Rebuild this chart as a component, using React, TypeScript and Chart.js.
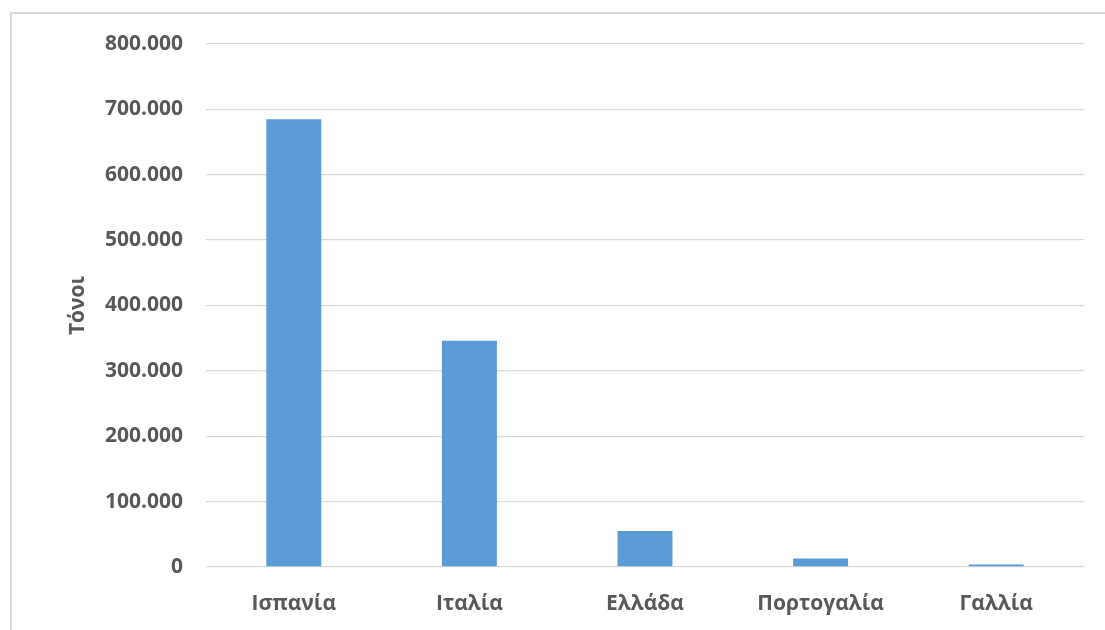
import { useEffect, useRef } from "react";
import { Chart, registerables } from "chart.js";

Chart.register(...registerables);

// Production by country, in tonnes
const countries: string[] = ["Ισπανία", "Ιταλία", "Ελλάδα", "Πορτογαλία", "Γαλλία"];
const tonnes: number[] = [685000, 346000, 55000, 13000, 4000];

// Value axis
const yMin = 0;
const yMax = 800000;
const yStep = 100000;
const yTitle = "Τόνοι";

const TEXT = "#595959";
const GRID = "#d9d9d9";
const BAR = "#5b9bd5";
const FONT = "'Open Sans', 'Noto Sans', 'DejaVu Sans', sans-serif";

// 800000 -> "800.000"
function withDots(v: number): string {
  return String(Math.round(v)).replace(/\B(?=(\d{3})+(?!\d))/g, ".");
}

export default function App() {
  const canvasRef = useRef<HTMLCanvasElement | null>(null);

  useEffect(() => {
    document.body.style.margin = "0";
    const canvas = canvasRef.current;
    if (!canvas) return;

    const chart = new Chart(canvas, {
      type: "bar",
      data: {
        labels: countries,
        datasets: [
          {
            data: tonnes,
            backgroundColor: BAR,
            borderWidth: 0,
            barPercentage: 1,
            categoryPercentage: 0.313,
          },
        ],
      },
      options: {
        animation: false,
        responsive: false,
        maintainAspectRatio: false,
        layout: { padding: { left: 0, right: 21, top: 44, bottom: 0 } },
        plugins: {
          legend: { display: false },
          tooltip: { enabled: false },
        },
        scales: {
          x: {
            grid: { display: false },
            border: { display: false },
            ticks: {
              color: TEXT,
              font: { family: FONT, size: 21, weight: "bold" },
              padding: 16,
              maxRotation: 0,
            },
            afterFit: (scale: any) => {
              scale.height = 63;
            },
          },
          y: {
            min: yMin,
            max: yMax,
            grid: { color: GRID, lineWidth: 1.3, drawTicks: false },
            border: { display: false },
            ticks: {
              stepSize: yStep,
              color: TEXT,
              font: { family: FONT, size: 21, weight: "bold" },
              padding: 23,
              callback: (v: any) => withDots(Number(v)),
            },
            title: {
              display: true,
              text: yTitle,
              color: TEXT,
              font: { family: FONT, size: 21, weight: "bold" },
              padding: { top: 65, bottom: 0 },
            },
            afterFit: (scale: any) => {
              scale.width = 206;
            },
          },
        },
      },
    });

    return () => chart.destroy();
  }, []);

  return (
    <div style={{ position: "absolute", left: 0, top: 0, width: 1105, height: 630, background: "#fff", overflow: "hidden" }}>
      <div
        style={{
          position: "absolute",
          left: 10,
          top: 12,
          width: 1120,
          height: 640,
          border: `2px solid ${GRID}`,
          boxSizing: "border-box",
        }}
      />
      <canvas
        ref={canvasRef}
        width={1105}
        height={630}
        style={{ position: "absolute", left: 0, top: 0, width: 1105, height: 630 }}
      />
    </div>
  );
}
